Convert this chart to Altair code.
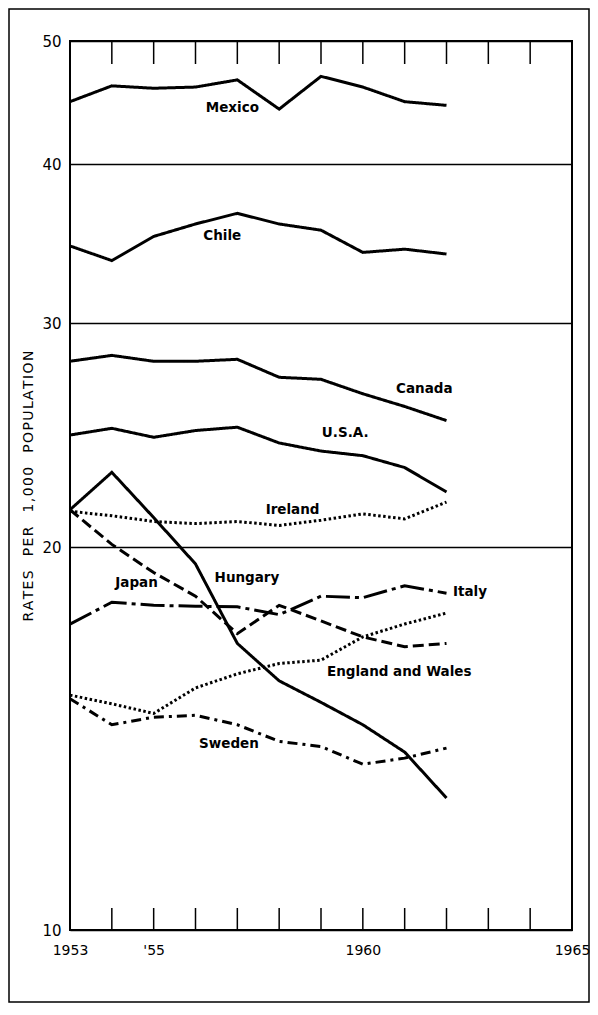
import altair as alt
import pandas as pd

# ---------------- data ----------------
years = [1953, 1954, 1955, 1956, 1957, 1958, 1959, 1960, 1961, 1962]

mexico = [44.8, 46.1, 45.9, 46.0, 46.6, 44.2, 46.9, 46.0, 44.8, 44.5]
chile = [34.5, 33.6, 35.1, 35.9, 36.6, 35.9, 35.5, 34.1, 34.3, 34.0]
canada = [28.0, 28.3, 28.0, 28.0, 28.1, 27.2, 27.1, 26.4, 25.8, 25.15]
usa = [24.5, 24.8, 24.4, 24.7, 24.85, 24.15, 23.8, 23.6, 23.1, 22.1]
ireland = [21.34, 21.17, 20.95, 20.87, 20.95, 20.8, 21.0, 21.24, 21.05, 21.7]
hungary = [21.4, 22.9, 21.1, 19.4, 16.8, 15.7, 15.1, 14.5, 13.8, 12.7]
japan = [21.4, 20.1, 19.1, 18.3, 17.1, 18.0, 17.5, 17.0, 16.7, 16.8]
italy = [17.4, 18.1, 18.0, 17.97, 17.95, 17.7, 18.3, 18.25, 18.65, 18.4]
england_wales = [15.3, 15.06, 14.8, 15.5, 15.9, 16.2, 16.3, 17.0, 17.4, 17.75]
sweden = [15.2, 14.5, 14.7, 14.75, 14.5, 14.07, 13.94, 13.5, 13.65, 13.9]

countries = ["Mexico", "Chile", "Canada", "U.S.A.", "Ireland", "Hungary",
             "Japan", "Italy", "England and Wales", "Sweden"]
series = [mexico, chile, canada, usa, ireland, hungary, japan, italy,
          england_wales, sweden]

label_text = ["Mexico", "Chile", "Canada", "U.S.A.", "Ireland", "Japan",
              "Hungary", "Italy", "England and Wales", "Sweden"]
label_year = [1956.88, 1956.64, 1961.47, 1959.58, 1958.32, 1954.59,
              1957.23, 1962.56, 1960.87, 1956.8]
label_rate = [44.3, 35.1, 26.65, 24.6, 21.4, 18.75, 18.92, 18.45, 15.96, 14.01]

tick_years = [1954, 1955, 1956, 1957, 1958, 1959, 1960, 1961, 1962, 1963, 1964]
x_label_values = [1953, 1955, 1960, 1965]
y_label_values = [10, 20, 30, 40, 50]

# ---------------- styles ----------------
SOLID = [1, 0]
DOTTED = [2.5, 2.5]
DASHED = [11, 5]
LONG_DASH_DOT = [24, 5, 4, 5]
DASH_DOT = [10, 5, 3, 5]
dash_styles = [SOLID, SOLID, SOLID, SOLID, DOTTED, SOLID, DASHED,
               LONG_DASH_DOT, DOTTED, DASH_DOT]

FONT = "DejaVu Sans"
W, H = 502, 889
PAD = {"left": 62, "top": 33, "right": 18, "bottom": 75}

rows = []
for c, vals in zip(countries, series):
    for yr, v in zip(years, vals):
        rows.append({"country": c, "year": yr, "rate": v})
df = pd.DataFrame(rows)

labels = pd.DataFrame({"label": label_text, "year": label_year, "rate": label_rate})
ticks = pd.DataFrame({"year": tick_years, "rate": [10] * len(tick_years)})

x_scale = alt.Scale(domain=[1953, 1965], nice=False, zero=False)
y_scale = alt.Scale(type="log", domain=[10, 50], nice=False)

title_words = ["RATES", "PER", "1,000", "POPULATION"]
y_title = "\u2003".join("\u200a".join(w) for w in title_words)

x_axis = alt.Axis(values=x_label_values, format="d",
                  labelExpr="datum.value == 1955 ? \"'55\" : datum.label",
                  ticks=False, domain=False, grid=False,
                  labelFont=FONT, labelFontSize=14, labelPadding=13,
                  labelFlush=False, labelColor="black", title=None)
y_axis = alt.Axis(values=y_label_values, format="d",
                  ticks=False, domain=False, grid=True,
                  gridColor="black", gridWidth=1.5, gridOpacity=1,
                  labelFont=FONT, labelFontSize=15, labelPadding=9,
                  labelColor="black",
                  title=y_title, titleFont=FONT, titleFontSize=14,
                  titleFontWeight="normal", titleColor="black",
                  titleX=-42, titleAngle=270, titleBaseline="middle",
                  titleAlign="center")

X = alt.X("year:Q", scale=x_scale, axis=x_axis)
Y = alt.Y("rate:Q", scale=y_scale, axis=y_axis)

lines = alt.Chart(df).mark_line(color="black", strokeWidth=3).encode(
    x=X, y=Y,
    strokeDash=alt.StrokeDash("country:N",
                              scale=alt.Scale(domain=countries, range=dash_styles),
                              legend=None),
    detail="country:N",
)

text = alt.Chart(labels).mark_text(font=FONT, fontSize=13.5, fontWeight="bold",
                                   color="black").encode(
    x=X, y=Y, text="label:N",
)

top_ticks = alt.Chart(ticks).mark_rule(color="black", strokeWidth=1.5).encode(
    x=X, y=alt.value(0), y2=alt.value(23),
)
bottom_ticks = alt.Chart(ticks).mark_rule(color="black", strokeWidth=1.5).encode(
    x=X, y=alt.value(H), y2=alt.value(H - 22),
)

frame = alt.Chart(pd.DataFrame({"f": [0]})).mark_rect(
    filled=False, stroke="black", strokeWidth=1.5).encode(
    x=alt.value(-PAD["left"] + 1), x2=alt.value(W + PAD["right"] - 1),
    y=alt.value(-32), y2=alt.value(H + 72),
)

chart = alt.layer(lines, top_ticks, bottom_ticks, text, frame).properties(
    width=W, height=H,
    padding=PAD,
    autosize=alt.AutoSizeParams(type="none"),
    background="white",
).configure_view(stroke="black", strokeWidth=2)

chart.save("out.html", embed_options={"renderer": "svg", "actions": False})
